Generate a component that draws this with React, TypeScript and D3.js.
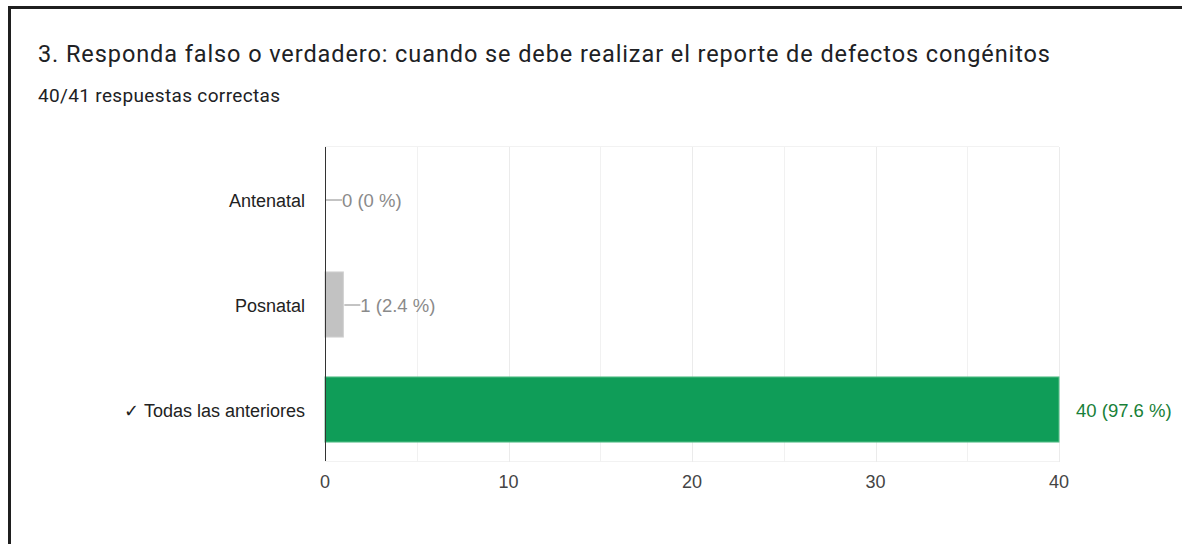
import React, { useRef, useEffect } from "react";
import * as d3 from "d3";

const categories = ["Antenatal", "Posnatal", "✓ Todas las anteriores"];
const counts = [0, 1, 40];
const percents = ["0 %", "2.4 %", "97.6 %"];
const correct = [false, false, true];
const xTicks = [0, 10, 20, 30, 40];
const gridValues = [5, 10, 15, 20, 25, 30, 35, 40];

const title = "3. Responda falso o verdadero: cuando se debe realizar el reporte de defectos congénitos";
const subtitle = "40/41 respuestas correctas";

const W = 1182;
const H = 544;

const App = () => {
    const svgRef = useRef<SVGSVGElement>(null);

    useEffect(() => {
        const svg = d3.select(svgRef.current);
        svg.selectAll("*").remove();

        const left = 325, right = 1059, top = 147, bottom = 462;

        const x = d3.scaleLinear().domain([0, 40]).range([left, right]);
        const y = d3.scaleBand<string>()
            .domain(categories)
            .range([top, bottom])
            .paddingInner(0.38)
            .paddingOuter(0.19);

        // frame lines of the screenshot
        svg.append("rect").attr("x", 0).attr("y", 0).attr("width", W).attr("height", H).attr("fill", "#fff");
        svg.append("line").attr("x1", 8).attr("x2", W).attr("y1", 7.5).attr("y2", 7.5)
            .attr("stroke", "#1f1f1f").attr("stroke-width", 3);
        svg.append("line").attr("x1", 9.5).attr("x2", 9.5).attr("y1", 6).attr("y2", H)
            .attr("stroke", "#1f1f1f").attr("stroke-width", 3);

        svg.append("text")
            .attr("x", 38).attr("y", 62)
            .attr("textLength", 1012)
            .attr("lengthAdjust", "spacing")
            .style("font-family", "Roboto, 'Noto Sans', sans-serif")
            .style("font-size", "23.5px")
            .attr("fill", "#202124")
            .text(title);

        svg.append("text")
            .attr("x", 38).attr("y", 102)
            .attr("textLength", 242)
            .attr("lengthAdjust", "spacing")
            .style("font-family", "Roboto, 'Noto Sans', sans-serif")
            .style("font-size", "19px")
            .attr("fill", "#202124")
            .text(subtitle);

        const chart = svg.append("g")
            .style("font-family", "'Liberation Sans', Arial, sans-serif");

        // plot frame top/bottom
        chart.append("line")
            .attr("x1", left).attr("x2", right)
            .attr("y1", top - 0.5).attr("y2", top - 0.5)
            .attr("stroke", "#f2f2f2");
        chart.append("line")
            .attr("x1", left).attr("x2", right)
            .attr("y1", bottom - 0.5).attr("y2", bottom - 0.5)
            .attr("stroke", "#f2f2f2");

        // gridlines
        chart.append("g")
            .selectAll("line")
            .data(gridValues)
            .enter()
            .append("line")
            .attr("x1", d => Math.round(x(d)) + 0.5)
            .attr("x2", d => Math.round(x(d)) + 0.5)
            .attr("y1", top)
            .attr("y2", bottom)
            .attr("stroke", d => d % 10 === 0 ? "#ebebeb" : "#f1f1f1");

        // bars
        chart.append("g")
            .selectAll("rect")
            .data(categories)
            .enter()
            .append("rect")
            .attr("x", x(0))
            .attr("y", d => y(d)!)
            .attr("width", (d, i) => x(counts[i]) - x(0))
            .attr("height", y.bandwidth())
            .attr("fill", (d, i) => correct[i] ? "#0f9d58" : "#c2c2c2")
            .attr("stroke", (d, i) => counts[i] > 0 ? (correct[i] ? "#5cc08c" : "#d0d0d0") : "none")
            .attr("stroke-width", 1);

        // value labels
        categories.forEach((c, i) => {
            const cy = y(c)! + y.bandwidth() / 2;
            const end = x(counts[i]);
            const label = `${counts[i]} (${percents[i]})`;
            if (correct[i]) {
                chart.append("text")
                    .attr("x", end + 17).attr("y", cy)
                    .attr("dy", "0.4em")
                    .attr("fill", "#188038")
                    .style("font-size", "18.5px")
                    .text(label);
            } else {
                chart.append("line")
                    .attr("x1", end + 1).attr("x2", end + 17)
                    .attr("y1", cy + 0.5).attr("y2", cy + 0.5)
                    .attr("stroke", "#888");
                chart.append("text")
                    .attr("x", end + 17).attr("y", cy)
                    .attr("dy", "0.4em")
                    .attr("fill", "#8a8a8a")
                    .style("font-size", "18.5px")
                    .text(label);
            }
        });

        // category labels
        chart.append("g")
            .selectAll("text")
            .data(categories)
            .enter()
            .append("text")
            .attr("x", left - 20)
            .attr("y", d => y(d)! + y.bandwidth() / 2)
            .attr("dy", "0.4em")
            .attr("text-anchor", "end")
            .attr("fill", "#222")
            .style("font-size", "18px")
            .text(d => d);

        // x tick labels
        chart.append("g")
            .selectAll("text")
            .data(xTicks)
            .enter()
            .append("text")
            .attr("x", d => x(d))
            .attr("y", 488)
            .attr("text-anchor", "middle")
            .attr("fill", "#444")
            .style("font-size", "18px")
            .text(d => d);

        // baseline axis
        chart.append("line")
            .attr("x1", left + 0.5).attr("x2", left + 0.5)
            .attr("y1", top).attr("y2", bottom - 1)
            .attr("stroke", "#333");
    }, []);

    return (
        <div>
            <svg ref={svgRef} width={W} height={H}
                style={{ position: "absolute", left: 0, top: 0 }}></svg>
        </div>
    );
};

export default App;
